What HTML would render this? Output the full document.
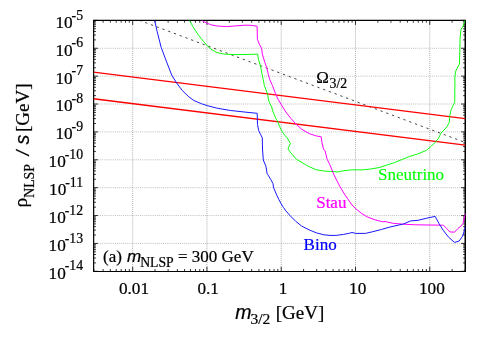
<!DOCTYPE html>
<html><head><meta charset="utf-8"><title>plot</title>
<style>html,body{margin:0;padding:0;background:#fff;overflow:hidden}svg{display:block;will-change:transform}text{font-family:"Liberation Serif",serif;fill:#000;stroke:#000;stroke-width:.22px}.g{fill:#0f0;stroke:#0f0;stroke-width:.08px}.m{fill:#f0f;stroke:#f0f}.b{fill:#00f;stroke:#00f}.sans{font-family:"Liberation Sans",sans-serif;font-style:italic}</style>
</head><body>
<svg width="491" height="343" viewBox="0 0 491 343">
<rect width="491" height="343" fill="#fff"/>
<path d="M132.68 20.40V271.30M206.95 20.40V271.30M281.22 20.40V271.30M355.49 20.40V271.30M429.76 20.40V271.30" stroke="#808080" stroke-width="0.7" stroke-dasharray="0.9 1.13" fill="none"/>
<path d="M93.85 243.42H465.20M93.85 215.54H465.20M93.85 187.67H465.20M93.85 159.79H465.20M93.85 131.91H465.20M93.85 104.03H465.20M93.85 76.16H465.20M93.85 48.28H465.20" stroke="#999" stroke-width="0.7" stroke-dasharray="0.9 1.2" fill="none"/>
<path d="M93.85 271.30v-2.3M93.85 20.40v2.3M103.13 271.30v-2.3M103.13 20.40v2.3M110.33 271.30v-2.3M110.33 20.40v2.3M116.21 271.30v-2.3M116.21 20.40v2.3M121.18 271.30v-2.3M121.18 20.40v2.3M125.49 271.30v-2.3M125.49 20.40v2.3M129.29 271.30v-2.3M129.29 20.40v2.3M132.68 271.30v-4.5M132.68 20.40v4.5M155.04 271.30v-2.3M155.04 20.40v2.3M168.12 271.30v-2.3M168.12 20.40v2.3M177.40 271.30v-2.3M177.40 20.40v2.3M184.60 271.30v-2.3M184.60 20.40v2.3M190.48 271.30v-2.3M190.48 20.40v2.3M195.45 271.30v-2.3M195.45 20.40v2.3M199.76 271.30v-2.3M199.76 20.40v2.3M203.56 271.30v-2.3M203.56 20.40v2.3M206.95 271.30v-4.5M206.95 20.40v4.5M229.31 271.30v-2.3M229.31 20.40v2.3M242.39 271.30v-2.3M242.39 20.40v2.3M251.67 271.30v-2.3M251.67 20.40v2.3M258.87 271.30v-2.3M258.87 20.40v2.3M264.75 271.30v-2.3M264.75 20.40v2.3M269.72 271.30v-2.3M269.72 20.40v2.3M274.03 271.30v-2.3M274.03 20.40v2.3M277.83 271.30v-2.3M277.83 20.40v2.3M281.22 271.30v-4.5M281.22 20.40v4.5M303.58 271.30v-2.3M303.58 20.40v2.3M316.66 271.30v-2.3M316.66 20.40v2.3M325.94 271.30v-2.3M325.94 20.40v2.3M333.14 271.30v-2.3M333.14 20.40v2.3M339.02 271.30v-2.3M339.02 20.40v2.3M343.99 271.30v-2.3M343.99 20.40v2.3M348.30 271.30v-2.3M348.30 20.40v2.3M352.10 271.30v-2.3M352.10 20.40v2.3M355.49 271.30v-4.5M355.49 20.40v4.5M377.85 271.30v-2.3M377.85 20.40v2.3M390.93 271.30v-2.3M390.93 20.40v2.3M400.21 271.30v-2.3M400.21 20.40v2.3M407.41 271.30v-2.3M407.41 20.40v2.3M413.29 271.30v-2.3M413.29 20.40v2.3M418.26 271.30v-2.3M418.26 20.40v2.3M422.57 271.30v-2.3M422.57 20.40v2.3M426.37 271.30v-2.3M426.37 20.40v2.3M429.76 271.30v-4.5M429.76 20.40v4.5M452.12 271.30v-2.3M452.12 20.40v2.3M465.20 271.30v-2.3M465.20 20.40v2.3M93.85 271.30h4.1M465.20 271.30h-4.1M93.85 262.91h2.1M465.20 262.91h-2.1M93.85 258.00h2.1M465.20 258.00h-2.1M93.85 254.52h2.1M465.20 254.52h-2.1M93.85 251.81h2.1M465.20 251.81h-2.1M93.85 249.61h2.1M465.20 249.61h-2.1M93.85 247.74h2.1M465.20 247.74h-2.1M93.85 246.12h2.1M465.20 246.12h-2.1M93.85 244.70h2.1M465.20 244.70h-2.1M93.85 243.42h4.1M465.20 243.42h-4.1M93.85 235.03h2.1M465.20 235.03h-2.1M93.85 230.12h2.1M465.20 230.12h-2.1M93.85 226.64h2.1M465.20 226.64h-2.1M93.85 223.94h2.1M465.20 223.94h-2.1M93.85 221.73h2.1M465.20 221.73h-2.1M93.85 219.86h2.1M465.20 219.86h-2.1M93.85 218.25h2.1M465.20 218.25h-2.1M93.85 216.82h2.1M465.20 216.82h-2.1M93.85 215.54h4.1M465.20 215.54h-4.1M93.85 207.15h2.1M465.20 207.15h-2.1M93.85 202.24h2.1M465.20 202.24h-2.1M93.85 198.76h2.1M465.20 198.76h-2.1M93.85 196.06h2.1M465.20 196.06h-2.1M93.85 193.85h2.1M465.20 193.85h-2.1M93.85 191.98h2.1M465.20 191.98h-2.1M93.85 190.37h2.1M465.20 190.37h-2.1M93.85 188.94h2.1M465.20 188.94h-2.1M93.85 187.67h4.1M465.20 187.67h-4.1M93.85 179.27h2.1M465.20 179.27h-2.1M93.85 174.37h2.1M465.20 174.37h-2.1M93.85 170.88h2.1M465.20 170.88h-2.1M93.85 168.18h2.1M465.20 168.18h-2.1M93.85 165.97h2.1M465.20 165.97h-2.1M93.85 164.11h2.1M465.20 164.11h-2.1M93.85 162.49h2.1M465.20 162.49h-2.1M93.85 161.06h2.1M465.20 161.06h-2.1M93.85 159.79h4.1M465.20 159.79h-4.1M93.85 151.40h2.1M465.20 151.40h-2.1M93.85 146.49h2.1M465.20 146.49h-2.1M93.85 143.00h2.1M465.20 143.00h-2.1M93.85 140.30h2.1M465.20 140.30h-2.1M93.85 138.10h2.1M465.20 138.10h-2.1M93.85 136.23h2.1M465.20 136.23h-2.1M93.85 134.61h2.1M465.20 134.61h-2.1M93.85 133.19h2.1M465.20 133.19h-2.1M93.85 131.91h4.1M465.20 131.91h-4.1M93.85 123.52h2.1M465.20 123.52h-2.1M93.85 118.61h2.1M465.20 118.61h-2.1M93.85 115.13h2.1M465.20 115.13h-2.1M93.85 112.43h2.1M465.20 112.43h-2.1M93.85 110.22h2.1M465.20 110.22h-2.1M93.85 108.35h2.1M465.20 108.35h-2.1M93.85 106.73h2.1M465.20 106.73h-2.1M93.85 105.31h2.1M465.20 105.31h-2.1M93.85 104.03h4.1M465.20 104.03h-4.1M93.85 95.64h2.1M465.20 95.64h-2.1M93.85 90.73h2.1M465.20 90.73h-2.1M93.85 87.25h2.1M465.20 87.25h-2.1M93.85 84.55h2.1M465.20 84.55h-2.1M93.85 82.34h2.1M465.20 82.34h-2.1M93.85 80.47h2.1M465.20 80.47h-2.1M93.85 78.86h2.1M465.20 78.86h-2.1M93.85 77.43h2.1M465.20 77.43h-2.1M93.85 76.16h4.1M465.20 76.16h-4.1M93.85 67.76h2.1M465.20 67.76h-2.1M93.85 62.85h2.1M465.20 62.85h-2.1M93.85 59.37h2.1M465.20 59.37h-2.1M93.85 56.67h2.1M465.20 56.67h-2.1M93.85 54.46h2.1M465.20 54.46h-2.1M93.85 52.60h2.1M465.20 52.60h-2.1M93.85 50.98h2.1M465.20 50.98h-2.1M93.85 49.55h2.1M465.20 49.55h-2.1M93.85 48.28h4.1M465.20 48.28h-4.1M93.85 39.89h2.1M465.20 39.89h-2.1M93.85 34.98h2.1M465.20 34.98h-2.1M93.85 31.49h2.1M465.20 31.49h-2.1M93.85 28.79h2.1M465.20 28.79h-2.1M93.85 26.58h2.1M465.20 26.58h-2.1M93.85 24.72h2.1M465.20 24.72h-2.1M93.85 23.10h2.1M465.20 23.10h-2.1M93.85 21.68h2.1M465.20 21.68h-2.1M93.85 20.40h4.1M465.20 20.40h-4.1" stroke="#000" stroke-width="0.8" fill="none"/>
<path d="M93.05 19.75H466V21.0H93.05ZM93.05 270.9H466V272H93.05ZM93.05 19.8H94.25V272H93.05ZM464.5 19.8H466V272H464.5Z" fill="#000"/>
<clipPath id="c"><rect x="93.85" y="20.4" width="371.75" height="250.90"/></clipPath>
<g clip-path="url(#c)">
<path d="M138.57 20 L465.5 142.6" stroke="#222" stroke-width="0.85" stroke-dasharray="2.3 3.83" stroke-dashoffset="-7.05" fill="none"/>
<path d="M93.5 72.1 L465.3 118.65" stroke="#ff0000" stroke-width="1.4" fill="none"/>
<path d="M93.5 98.7 L465.3 145.1" stroke="#ff0000" stroke-width="1.4" fill="none"/>
<path d="M189.5 19.5 L189.9 21.1 L193.6 27.8 L198.5 35.1 L203.4 41.3 L207.6 46.2 L211.9 49.8 L216.8 52.5 L224.2 54.1 L234.0 54.6 L245.0 54.5 L257.7 54.2 L258.6 59.9 L260.5 66.0 L261.9 73.4 L263.2 79.5 L264.4 85.6 L267.6 94.2 L268.5 100.0 L270.0 103.6 L271.8 107.2 L272.4 110.0 L273.7 113.4 L275.8 118.4 L277.3 120.7 L279.8 126.8 L282.2 131.7 L285.0 135.5 L287.3 138.0 L290.4 143.5 L287.9 149.0 L292.2 154.5 L296.5 159.4 L300.0 161.3 L308.1 166.2 L316.3 169.8 L324.4 171.1 L332.6 171.6 L338.3 171.9 L344.0 170.7 L352.1 169.8 L361.9 169.9 L370.0 169.1 L379.8 167.4 L387.3 164.9 L394.7 162.5 L402.0 159.5 L409.4 156.5 L417.9 153.9 L426.5 150.3 L431.4 146.1 L435.7 141.8 L438.6 138.1 L441.0 133.0 L446.1 127.9 L449.2 122.8 L449.8 115.6 L451.2 109.5 L454.7 102.3 L454.9 85.0 L454.9 76.2 L455.7 71.1 L459.4 64.0 L459.8 51.7 L460.0 39.5 L461.0 29.3 L463.1 26.2 L464.9 21.1 L465.3 19.5" stroke="#00ff00" stroke-width="0.95" fill="none" stroke-linejoin="round" stroke-linecap="butt"/>
<path d="M201.5 19.5 L202.7 21.1 L206.4 22.9 L210.7 24.7 L216.8 26.0 L226.6 26.6 L234.0 26.0 L245.0 25.2 L251.2 25.3 L257.1 26.2 L257.4 39.2 L259.3 44.0 L261.5 48.3 L262.3 53.8 L264.4 61.1 L266.6 67.3 L268.1 73.4 L269.7 79.5 L272.5 85.6 L275.7 94.2 L276.1 95.0 L278.2 99.5 L281.0 104.2 L285.9 112.1 L290.8 118.3 L295.7 123.8 L301.8 129.3 L309.2 133.6 L316.5 136.0 L321.2 136.8 L322.0 142.9 L323.5 149.0 L325.1 151.0 L327.1 159.2 L329.8 164.5 L333.9 174.7 L339.0 184.9 L345.1 195.1 L352.0 205.0 L355.7 208.7 L361.8 213.6 L367.9 217.2 L375.3 219.9 L382.6 221.8 L385.0 221.5 L393.6 223.4 L403.4 224.2 L415.6 224.8 L442.5 225.2 L443.6 225.3 L446.7 228.6 L449.9 231.9 L454.5 232.2 L457.8 228.6 L461.1 226.0 L462.9 223.7 L464.1 219.0 L464.9 215.5 L465.6 213.5" stroke="#ff00ff" stroke-width="1.0" fill="none" stroke-linejoin="round" stroke-linecap="butt"/>
<path d="M154.4 19.5 L154.7 20.4 L157.1 31.4 L161.2 47.5 L166.6 61.9 L171.7 75.0 L176.6 83.0 L182.1 90.3 L188.3 96.4 L193.8 100.5 L201.7 103.8 L207.2 105.6 L216.4 108.0 L225.0 109.6 L230.8 110.5 L245.1 112.1 L257.2 113.3 L257.5 124.5 L258.7 130.6 L260.5 134.3 L262.3 137.9 L262.5 149.0 L263.3 160.0 L265.9 166.2 L267.1 173.5 L268.6 175.9 L270.8 179.6 L273.0 183.6 L273.6 187.8 L276.7 195.0 L278.8 199.4 L281.0 203.6 L283.4 207.4 L285.9 210.9 L290.2 215.8 L295.7 221.3 L301.8 226.2 L309.2 229.9 L316.5 232.9 L323.9 234.8 L330.0 235.4 L336.1 235.4 L343.5 234.4 L349.6 233.2 L352.0 232.5 L355.7 233.4 L365.5 233.4 L372.8 231.7 L381.4 229.5 L390.0 227.0 L403.4 224.0 L410.7 220.9 L418.0 220.3 L426.6 218.2 L435.2 216.4 L438.9 223.4 L443.4 230.6 L448.6 237.2 L454.5 242.4 L459.1 241.1 L462.4 236.5 L464.4 230.6 L465.3 226.5" stroke="#1818ff" stroke-width="1.0" fill="none" stroke-linejoin="round" stroke-linecap="butt"/>
</g>
<text x="83.05" y="278.70" text-anchor="end" font-size="17.2">10<tspan font-size="13.8" dy="-8.3" dx="-1.1">-14</tspan></text>
<text x="83.05" y="250.82" text-anchor="end" font-size="17.2">10<tspan font-size="13.8" dy="-8.3" dx="-1.1">-13</tspan></text>
<text x="83.05" y="222.94" text-anchor="end" font-size="17.2">10<tspan font-size="13.8" dy="-8.3" dx="-1.1">-12</tspan></text>
<text x="83.05" y="195.07" text-anchor="end" font-size="17.2">10<tspan font-size="13.8" dy="-8.3" dx="-1.1">-11</tspan></text>
<text x="83.05" y="167.19" text-anchor="end" font-size="17.2">10<tspan font-size="13.8" dy="-8.3" dx="-1.1">-10</tspan></text>
<text x="83.05" y="139.31" text-anchor="end" font-size="17.2">10<tspan font-size="13.8" dy="-8.3" dx="-1.1">-9</tspan></text>
<text x="83.05" y="111.43" text-anchor="end" font-size="17.2">10<tspan font-size="13.8" dy="-8.3" dx="-1.1">-8</tspan></text>
<text x="83.05" y="83.56" text-anchor="end" font-size="17.2">10<tspan font-size="13.8" dy="-8.3" dx="-1.1">-7</tspan></text>
<text x="83.05" y="55.68" text-anchor="end" font-size="17.2">10<tspan font-size="13.8" dy="-8.3" dx="-1.1">-6</tspan></text>
<text x="83.05" y="27.80" text-anchor="end" font-size="17.2">10<tspan font-size="13.8" dy="-8.3" dx="-1.1">-5</tspan></text>
<text x="134.00" y="294.1" text-anchor="middle" font-size="17.2">0.01</text>
<text x="208.20" y="294.1" text-anchor="middle" font-size="17.2">0.1</text>
<text x="283.00" y="294.1" text-anchor="middle" font-size="17.2">1</text>
<text x="357.70" y="294.1" text-anchor="middle" font-size="17.2">10</text>
<text x="431.90" y="294.1" text-anchor="middle" font-size="17.2">100</text>
<text x="235.2" y="318.7" font-size="19.5" class="sans">m</text>
<text x="250.4" y="323.6" font-size="15.5">3/2</text>
<text x="275.7" y="318.7" font-size="19">[GeV]</text>
<g transform="translate(28.5,207.6) rotate(-90)">
<text x="0" y="-1.7" font-size="19.5">ρ</text>
<text x="9.9" y="5.5" font-size="13.7">NLSP</text>
<text x="52" y="0" font-size="18" class="sans">/</text>
<text x="63.2" y="0" font-size="19.5" class="sans">s</text>
<text x="75.6" y="0" font-size="19">[GeV]</text>
</g>
<text x="316.3" y="82.6" font-size="17">Ω</text>
<text x="329.6" y="87.6" font-size="13.8">3/2</text>
<text x="378" y="180.4" font-size="17" class="g">Sneutrino</text>
<text x="316.2" y="207.8" font-size="17" class="m">Stau</text>
<text x="303.6" y="249.6" font-size="17" class="b">Bino</text>
<text x="103" y="262.2" font-size="17">(a)</text>
<text x="127" y="262.2" font-size="17" class="sans">m</text>
<text x="140.2" y="266.5" font-size="13.7">NLSP</text>
<text x="178" y="262.2" font-size="17">= 300 GeV</text>
</svg></body></html>
